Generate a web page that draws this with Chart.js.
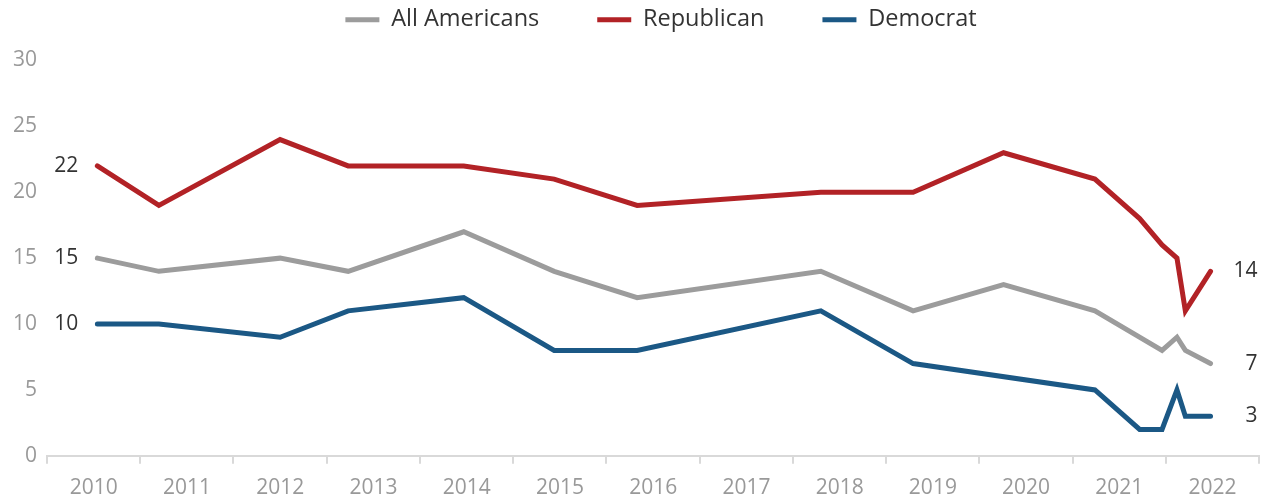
<!DOCTYPE html>
<html>
<head>
<meta charset="utf-8">
<script src="https://cdn.jsdelivr.net/npm/chart.js@4.4.0/dist/chart.umd.min.js"></script>
<style>
  html, body { margin: 0; padding: 0; background: #fff; }
  #wrap { width: 1271px; height: 497px; }
</style>
</head>
<body>
<div id="wrap"><canvas id="chart"></canvas></div>
<script>
// survey dates as decimal years
const surveyDates = [2010.54, 2011.2, 2012.5, 2013.23, 2014.47, 2015.44, 2016.33, 2018.3,
  2019.29, 2020.26, 2021.24, 2021.72, 2021.96, 2022.12, 2022.21, 2022.48];

const allAmericans = [15, 14, 15, 14, 17, 14, 12, 14, 11, 13, 11, null, 8, 9, 8, 7];
const republican = [22, 19, 24, 22, 22, 21, 19, 20, 20, 23, 21, 18, 16, 15, 11, 14];
const democrat = [10, 10, 9, 11, 12, 8, 8, 11, 7, null, 5, 2, 2, 5, 3, 3];

const yearTicks = [2010, 2011, 2012, 2013, 2014, 2015, 2016, 2017, 2018, 2019, 2020, 2021, 2022];

const toPoints = (vals) => surveyDates.map((d, i) => ({ x: d, y: vals[i] }));

const series = (label, vals, color) => ({
  label: label,
  data: toPoints(vals),
  borderColor: color,
  backgroundColor: color,
  borderWidth: 5,
  borderCapStyle: 'round',
  borderJoinStyle: 'miter',
  pointRadius: 0,
  tension: 0,
  spanGaps: true
});

// first and last value written next to each line
const endLabels = {
  id: 'endLabels',
  afterDatasetsDraw(chart) {
    const ctx = chart.ctx;
    ctx.save();
    ctx.font = '21px "Open Sans"';
    ctx.fillStyle = '#333';
    ctx.textAlign = 'right';
    ctx.textBaseline = 'middle';
    chart.data.datasets.forEach((ds, i) => {
      const pts = chart.getDatasetMeta(i).data;
      const first = pts[0], last = pts[pts.length - 1];
      ctx.fillText(String(ds.data[0].y), first.x - 19, first.y);
      ctx.fillText(String(ds.data[ds.data.length - 1].y), last.x + 47, last.y);
    });
    ctx.restore();
  }
};

// a bit more room between the legend and the plot, legend nudged right
const legendGap = {
  id: 'legendGap',
  beforeLayout(chart) {
    const legend = chart.legend;
    if (!legend || legend._gapPatched) return;
    const fit = legend.fit;
    legend.fit = function () {
      fit.call(this);
      this.height += 19;
    };
    legend._gapPatched = true;
  },
  afterLayout(chart) {
    if (!chart.legend) return;
    chart.legend.left += 8;
    chart.legend.right += 8;
  }
};

new Chart(document.getElementById('chart'), {
  type: 'line',
  data: {
    datasets: [
      series('All Americans', allAmericans, '#9c9c9c'),
      series('Republican', republican, '#b22226'),
      series('Democrat', democrat, '#1b5885')
    ]
  },
  options: {
    responsive: true,
    maintainAspectRatio: false,
    animation: false,
    layout: { padding: { top: -50, left: 3, right: 6, bottom: -16 } },
    plugins: {
      legend: {
        position: 'top',
        fullSize: false,
        labels: {
          usePointStyle: true,
          pointStyle: 'line',
          pointStyleWidth: 34,
          padding: 58,
          color: '#333',
          font: { family: 'Open Sans', size: 23.5 }
        }
      },
      tooltip: { enabled: false }
    },
    scales: {
      x: {
        type: 'linear',
        min: 2010,
        max: 2023,
        afterBuildTicks: (axis) => {
          axis.ticks = yearTicks.concat([2023]).map(v => ({ value: v }));
        },
        grid: {
          drawOnChartArea: false,
          drawTicks: true,
          tickLength: 8,
          tickColor: '#d9d9d9',
          lineWidth: 2
        },
        border: { color: '#d9d9d9', width: 2 },
        ticks: {
          autoSkip: false,
          maxRotation: 0,
          padding: 12,
          labelOffset: 46.8,
          color: '#999',
          font: { family: 'Open Sans', size: 21 },
          callback: (v) => (v < 2023 ? String(v) : '')
        }
      },
      y: {
        min: 0,
        max: 30,
        grid: { display: false, drawTicks: false, tickLength: 0 },
        border: { display: false },
        ticks: {
          stepSize: 5,
          padding: 10,
          color: '#999',
          font: { family: 'Open Sans', size: 21 }
        }
      }
    }
  },
  plugins: [endLabels, legendGap]
});
</script>
</body>
</html>
